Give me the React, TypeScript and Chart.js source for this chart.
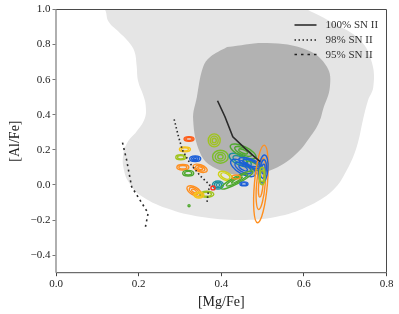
import { useEffect, useRef } from "react";
import { Chart, registerables } from "chart.js";

Chart.register(...registerables);

// ---------- data ----------
const xTicks = [0, 0.2, 0.4, 0.6, 0.8];
const yTicks = [-0.4, -0.2, 0, 0.2, 0.4, 0.6, 0.8, 1.0];

// light grey region (outer envelope)
const outerMg = [0.1, 0.119, 0.127, 0.151, 0.175, 0.19, 0.195, 0.199, 0.211, 0.217, 0.215, 0.195, 0.172, 0.162, 0.165, 0.175, 0.203, 0.268, 0.349, 0.446, 0.534, 0.607, 0.671, 0.704, 0.728, 0.743, 0.755, 0.768, 0.765, 0.736, 0.671, 0.608, 0.56, 0.3, 0.1];
const outerAl = [1.06, 0.997, 0.931, 0.874, 0.817, 0.76, 0.684, 0.589, 0.513, 0.456, 0.38, 0.304, 0.239, 0.16, 0.08, 0.02, -0.057, -0.133, -0.181, -0.199, -0.181, -0.124, -0.028, 0.085, 0.218, 0.37, 0.48, 0.558, 0.695, 0.826, 0.923, 1.0, 1.06, 1.08, 1.06];

// dark grey region
const innerMg = [0.414, 0.511, 0.608, 0.656, 0.663, 0.646, 0.639, 0.622, 0.574, 0.51, 0.446, 0.38, 0.349, 0.332, 0.341, 0.356, 0.373, 0.414];
const innerAl = [0.786, 0.809, 0.769, 0.672, 0.558, 0.427, 0.37, 0.296, 0.161, 0.076, 0.057, 0.103, 0.182, 0.37, 0.501, 0.672, 0.729, 0.786];

// model tracks
const sn100Mg = [0.391, 0.409, 0.428, 0.462, 0.494];
const sn100Al = [0.48, 0.389, 0.275, 0.199, 0.133];
const sn98Mg = [0.286, 0.296, 0.306, 0.324, 0.35, 0.372, 0.368, 0.365];
const sn98Al = [0.374, 0.28, 0.199, 0.124, 0.05, 0.0, -0.05, -0.11];
const sn95Mg = [0.161, 0.171, 0.183, 0.203, 0.223, 0.215];
const sn95Al = [0.241, 0.142, -0.01, -0.085, -0.161, -0.256];

// star contours (centre, half-widths, tilt, number of levels)
const ellMg = [0.322, 0.312, 0.302, 0.337, 0.307, 0.349, 0.32, 0.334, 0.365, 0.346, 0.322, 0.383, 0.398, 0.446, 0.453, 0.475, 0.453, 0.47, 0.41, 0.392, 0.438, 0.436, 0.455, 0.38, 0.496, 0.502, 0.499];
const ellAl = [0.262, 0.203, 0.158, 0.15, 0.101, 0.095, 0.067, -0.034, -0.053, -0.057, -0.118, 0.254, 0.161, 0.142, 0.191, 0.114, 0.097, 0.125, 0.051, 0.0, 0.028, 0.046, 0.006, -0.017, 0.006, 0.091, 0.051];
const ellRMg = [0.012, 0.0133, 0.0121, 0.0133, 0.0145, 0.018, 0.0133, 0.019, 0.017, 0.012, 0.0025, 0.0145, 0.019, 0.029, 0.034, 0.024, 0.034, 0.029, 0.018, 0.0133, 0.0436, 0.01, 0.0097, 0.005, 0.0157, 0.011, 0.007];
const ellRAl = [0.0125, 0.0142, 0.0142, 0.016, 0.0154, 0.02, 0.016, 0.023, 0.017, 0.017, 0.006, 0.037, 0.037, 0.0285, 0.0285, 0.023, 0.034, 0.023, 0.023, 0.023, 0.02, 0.011, 0.0114, 0.011, 0.222, 0.08, 0.05];
const ellTilt = [0, 0, 0, 0, 0, 20, 0, 30, 0, 0, 0, 0, 0, 25, 25, 25, 30, 20, 25, 0, -28, 0, 0, 0, 5, 5, 0];
const ellLevels = [2, 2, 2, 3, 2, 3, 2, 3, 2, 2, 1, 3, 3, 2, 3, 2, 3, 2, 2, 3, 3, 1, 2, 1, 3, 3, 2];
const ellColorKey = ["redOrange", "yellow", "lime", "blue", "orange", "orange", "green", "orange", "lime", "yellow", "green", "lime", "lime2", "teal", "green", "green", "blue", "blue", "yellowLime", "teal", "green", "orange", "blue", "red", "orange", "blue", "lime"];

const legendLabels = ["100% SN II", "98% SN II", "95% SN II"];

// ---------- styles ----------
const palette: Record<string, string> = {
  orange: "#ff8f1f",
  redOrange: "#ff5a14",
  yellow: "#f5c21c",
  lime: "#a0c41e",
  lime2: "#7cbd2a",
  yellowLime: "#d0d21a",
  green: "#4ea82e",
  teal: "#1f8f9f",
  blue: "#1b5fd8",
  red: "#ff2d1a",
};
const levelScales = [1, 0.66, 0.34];
const serif = "'Liberation Serif', 'DejaVu Serif', serif";
const lineDashes = [[], [1.5, 2.5], [2.5, 4]];

const pts = (xs: number[], ys: number[]) => xs.map((v, i) => ({ x: v, y: ys[i] }));

const ellipsePlugin = {
  id: "starContours",
  afterDatasetDraw(chart: any, args: any) {
    if (args.index !== 4) return;
    const { ctx, chartArea, scales } = chart;
    const sx = scales.x;
    const sy = scales.y;
    ctx.save();
    ctx.beginPath();
    ctx.rect(chartArea.left, chartArea.top, chartArea.right - chartArea.left, chartArea.bottom - chartArea.top);
    ctx.clip();
    ctx.lineWidth = 1.4;
    for (let i = 0; i < ellMg.length; i++) {
      const cx = sx.getPixelForValue(ellMg[i]);
      const cy = sy.getPixelForValue(ellAl[i]);
      const rx = Math.abs(sx.getPixelForValue(ellMg[i] + ellRMg[i]) - cx);
      const ry = Math.abs(sy.getPixelForValue(ellAl[i] + ellRAl[i]) - cy);
      ctx.strokeStyle = palette[ellColorKey[i]];
      for (let l = 0; l < ellLevels[i]; l++) {
        const s = levelScales[l];
        ctx.beginPath();
        ctx.ellipse(cx, cy, Math.max(rx * s, 0.6), Math.max(ry * s, 0.6), (ellTilt[i] * Math.PI) / 180, 0, Math.PI * 2);
        ctx.stroke();
      }
    }
    ctx.restore();
  },
};

const framePlugin = {
  id: "frameAndLegend",
  afterDraw(chart: any) {
    const { ctx, chartArea } = chart;
    const { left, right, top, bottom } = chartArea;
    ctx.save();
    ctx.strokeStyle = "#4a4a4a";
    ctx.lineWidth = 1;
    ctx.beginPath();
    ctx.moveTo(left, top);
    ctx.lineTo(right, top);
    ctx.lineTo(right, bottom);
    ctx.lineTo(left, bottom);
    ctx.stroke();
    ctx.strokeStyle = "#9c9c9c";
    ctx.lineWidth = 1.6;
    ctx.beginPath();
    ctx.moveTo(left, top);
    ctx.lineTo(left, bottom);
    ctx.stroke();

    // legend
    const lx0 = right - 92;
    const lx1 = right - 70;
    const tx = right - 61;
    const rows = [top + 15.5, top + 30.5, top + 45];
    ctx.font = `11px ${serif}`;
    ctx.textBaseline = "middle";
    ctx.textAlign = "left";
    for (let i = 0; i < legendLabels.length; i++) {
      ctx.strokeStyle = "#222";
      ctx.lineWidth = 1.5;
      ctx.setLineDash(lineDashes[i]);
      ctx.beginPath();
      ctx.moveTo(lx0, rows[i]);
      ctx.lineTo(lx1, rows[i]);
      ctx.stroke();
      ctx.setLineDash([]);
      ctx.fillStyle = "#333";
      ctx.fillText(legendLabels[i], tx, rows[i] + 0.5);
    }
    ctx.restore();
  },
};

export default function App() {
  const ref = useRef<HTMLCanvasElement | null>(null);

  useEffect(() => {
    document.body.style.margin = "0";
    if (!ref.current) return;
    const lineStyle = (dash: number[]) => ({
      showLine: true,
      pointRadius: 0,
      borderColor: "#2a2a2a",
      borderWidth: 1.6,
      borderDash: dash,
      fill: false,
      tension: 0,
      order: 1,
    });
    const chart = new Chart(ref.current, {
      type: "scatter",
      data: {
        datasets: [
          { label: legendLabels[0], data: pts(sn100Mg, sn100Al), ...lineStyle([]) },
          { label: legendLabels[1], data: pts(sn98Mg, sn98Al), ...lineStyle([1.5, 2.5]) },
          { label: legendLabels[2], data: pts(sn95Mg, sn95Al), ...lineStyle([2, 3.5]) },
          {
            label: "outer",
            data: pts(outerMg, outerAl),
            showLine: true,
            pointRadius: 0,
            borderWidth: 0,
            borderColor: "rgba(0,0,0,0)",
            backgroundColor: "#e5e5e5",
            fill: "shape",
            tension: 0.4,
            order: 3,
          },
          {
            label: "inner",
            data: pts(innerMg, innerAl),
            showLine: true,
            pointRadius: 0,
            borderWidth: 0,
            borderColor: "rgba(0,0,0,0)",
            backgroundColor: "#b2b2b2",
            fill: "shape",
            tension: 0.4,
            order: 2,
          },
        ] as any,
      },
      options: {
        animation: false,
        responsive: false,
        devicePixelRatio: 1,
        layout: { padding: { top: 9.5, right: 12.5, left: 0, bottom: 0 } },
        plugins: { legend: { display: false }, tooltip: { enabled: false } },
        elements: { line: { capBezierPoints: false } },
        scales: {
          x: {
            type: "linear",
            min: 0,
            max: 0.8,
            afterBuildTicks: (s: any) => {
              s.ticks = xTicks.map((v) => ({ value: v }));
            },
            afterFit: (s: any) => {
              s.height = 41.3;
            },
            ticks: {
              callback: (v: any) => Number(v).toFixed(1),
              font: { family: serif, size: 11 },
              color: "#222",
              padding: 1.5,
              maxRotation: 0,
            },
            grid: { drawOnChartArea: false, drawTicks: true, tickLength: 3.5, color: "#444" },
            border: { display: false },
            title: {
              display: true,
              text: "[Mg/Fe]",
              font: { family: serif, size: 14 },
              color: "#222",
              padding: { top: 0, bottom: 3 },
            },
          },
          y: {
            type: "linear",
            min: -0.5,
            max: 1.0,
            afterBuildTicks: (s: any) => {
              s.ticks = yTicks.map((v) => ({ value: v }));
            },
            afterFit: (s: any) => {
              s.width = 56;
            },
            ticks: {
              callback: (v: any) => {
                const n = Number(v);
                const t = Math.abs(n).toFixed(1);
                return n < -1e-9 ? "\u2212" + t : t;
              },
              font: { family: serif, size: 11 },
              color: "#222",
              padding: 2,
            },
            grid: { drawOnChartArea: false, drawTicks: true, tickLength: 3.5, color: "#777" },
            border: { display: false },
            title: {
              display: true,
              text: "[Al/Fe]",
              font: { family: serif, size: 14 },
              color: "#222",
              padding: { top: 6.5, bottom: 0 },
            },
          },
        },
      },
      plugins: [ellipsePlugin, framePlugin],
    });
    return () => chart.destroy();
  }, []);

  return <canvas ref={ref} width={399} height={314} style={{ display: "block" }} />;
}
